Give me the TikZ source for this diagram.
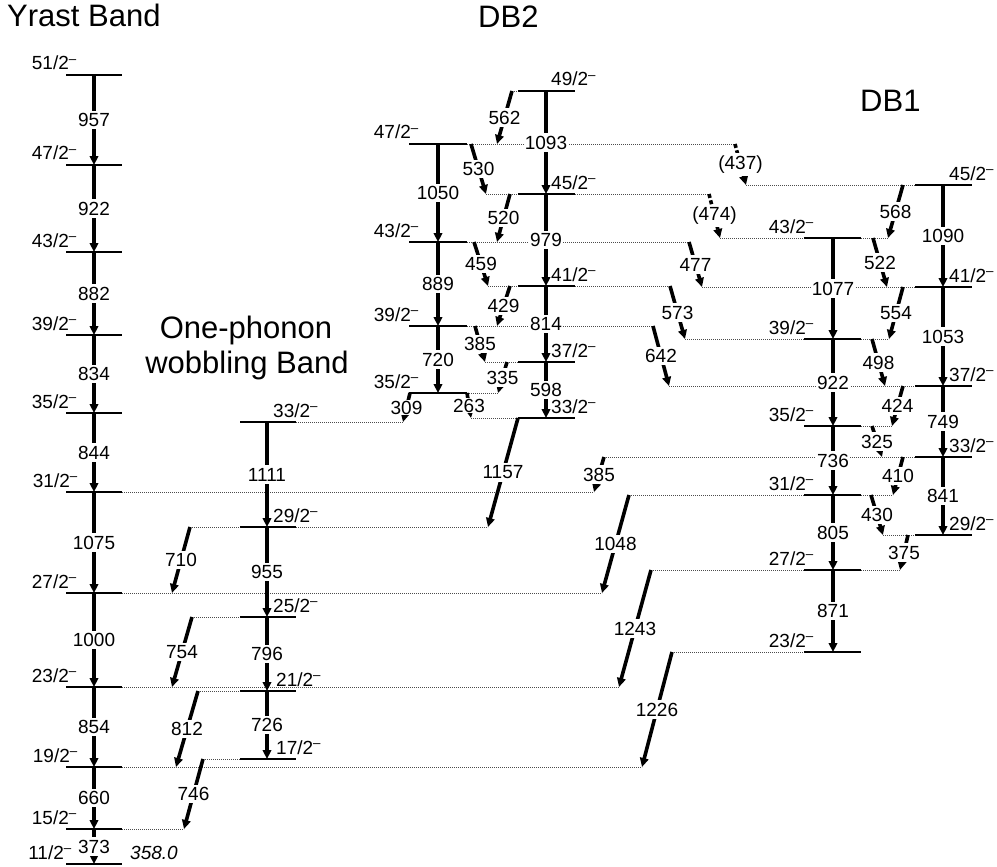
\documentclass[tikz,border=0pt]{standalone}
\usepackage{fontspec}
\setmainfont{Liberation Sans}
\usetikzlibrary{arrows.meta}
\newcommand\fs{\fontsize{19}{21}\selectfont}
\newcommand\jp[1]{#1\textsuperscript{–}}
% level: name, x of transition, x left, x right, y
\newcommand\lvl[5]{\coordinate (#1) at (#2,#5);
  \draw[levline] (#3,#5) coordinate (#1-l) -- (#4,#5) coordinate (#1-r);}
\begin{document}
\begin{tikzpicture}[x=1pt,y=-1pt,
  levline/.style={line width=1.3pt},
  ext/.style={line width=0.8pt, dash pattern=on 0.8pt off 1.2pt, black!70},
  gam/.style={line width=3.6pt, -{Triangle[length=9pt,width=8.5pt]}},
  gamd/.style={gam, dash pattern=on 4pt off 2.5pt},
  en/.style={fill=white, inner xsep=1pt, inner ysep=2.5pt, font=\fs},
  ens/.style={en, inner ysep=0.3pt},
  spL/.style={anchor=base east, inner sep=0pt, font=\fs},
  spR/.style={anchor=base west, inner sep=0pt, font=\fs},
  title/.style={font=\fontsize{31}{35}\selectfont, inner sep=0pt}]
\useasboundingbox (0,0) rectangle (997,867);

% ---------- transition end points ----------
\coordinate (s710) at (190,527); \coordinate (e710) at (172,593);
\coordinate (s754) at (192,617); \coordinate (e754) at (172,687);
\coordinate (s812) at (198,691); \coordinate (e812) at (176,767);
\coordinate (s746) at (203,759); \coordinate (e746) at (184,829);
\coordinate (s562) at (512,91);  \coordinate (e562) at (497,144);
\coordinate (s530) at (471,144); \coordinate (e530) at (486,194);
\coordinate (s520) at (510,194); \coordinate (e520) at (497,242);
\coordinate (s459) at (474,242); \coordinate (e459) at (488,286);
\coordinate (s429) at (510,286); \coordinate (e429) at (497,326);
\coordinate (s385a) at (475,326); \coordinate (e385a) at (485,362);
\coordinate (s335) at (507,362); \coordinate (e335) at (498,393);
\coordinate (s263) at (467,393); \coordinate (e263) at (471,418);
\coordinate (s309) at (410,393); \coordinate (e309) at (403,422);
\coordinate (s1157) at (518,418); \coordinate (e1157) at (488,527);
\coordinate (s437) at (735,144); \coordinate (e437) at (746,185);
\coordinate (s474) at (709,194); \coordinate (e474) at (720,238);
\coordinate (s477) at (689,242); \coordinate (e477) at (702,287);
\coordinate (s573) at (670,286); \coordinate (e573) at (685,339);
\coordinate (s642) at (653,326); \coordinate (e642) at (669,386);
\coordinate (s568) at (903,185); \coordinate (e568) at (888,238);
\coordinate (s522) at (873,238); \coordinate (e522) at (887,287);
\coordinate (s554) at (903,287); \coordinate (e554) at (889,339);
\coordinate (s498) at (872,339); \coordinate (e498) at (885,386);
\coordinate (s424) at (903,386); \coordinate (e424) at (892,426);
\coordinate (s325) at (872,426); \coordinate (e325) at (882,457);
\coordinate (s410) at (903,457); \coordinate (e410) at (893,495);
\coordinate (s430) at (871,495); \coordinate (e430) at (883,535);
\coordinate (s375) at (908,535); \coordinate (e375) at (900,570);
\coordinate (s385b) at (604,457); \coordinate (e385b) at (594,492);
\coordinate (s1048) at (629,495); \coordinate (e1048) at (602,593);
\coordinate (s1243) at (651,570); \coordinate (e1243) at (619,687);
\coordinate (s1226) at (672,652); \coordinate (e1226) at (642,767);

% ---------- levels ----------
% Yrast
\lvl{Y51}{94}{66}{122}{75}  \lvl{Y47}{94}{66}{122}{165}
\lvl{Y43}{94}{66}{122}{252} \lvl{Y39}{94}{66}{122}{335}
\lvl{Y35}{94}{66}{122}{413} \lvl{Y31}{94}{66}{122}{492}
\lvl{Y27}{94}{66}{122}{593} \lvl{Y23}{94}{66}{122}{687}
\lvl{Y19}{94}{66}{122}{767} \lvl{Y15}{94}{66}{122}{829}
\lvl{Y11}{94}{66}{122}{864}
% wobbling
\lvl{W33}{267}{240}{296}{422} \lvl{W29}{267}{240}{296}{527}
\lvl{W25}{267}{240}{296}{617} \lvl{W21}{267}{240}{296}{691}
\lvl{W17}{267}{240}{296}{759}
% DB2
\lvl{A47}{438}{409}{467}{144} \lvl{A43}{438}{409}{467}{242}
\lvl{A39}{438}{409}{467}{326} \lvl{A35}{438}{409}{467}{393}
\lvl{B49}{546}{518}{575}{91}  \lvl{B45}{546}{518}{575}{194}
\lvl{B41}{546}{518}{575}{286} \lvl{B37}{546}{518}{575}{362}
\lvl{B33}{546}{518}{575}{418}
% DB1
\lvl{C43}{833}{804}{861}{238} \lvl{C39}{833}{804}{861}{339}
\lvl{C35}{833}{804}{861}{426} \lvl{C31}{833}{804}{861}{495}
\lvl{C27}{833}{804}{861}{570} \lvl{C23}{833}{804}{861}{652}
\lvl{D45}{943}{915}{972}{185} \lvl{D41}{943}{915}{972}{287}
\lvl{D37}{943}{915}{972}{386} \lvl{D33}{943}{915}{972}{457}
\lvl{D29}{943}{915}{972}{535}

% ---------- dotted level extensions ----------
\draw[ext] (Y31-r) -- (e385b);  \draw[ext] (Y27-r) -- (e1048);
\draw[ext] (Y23-r) -- (e1243);  \draw[ext] (Y19-r) -- (e1226);
\draw[ext] (Y15-r) -- (e746);
\draw[ext] (W33-r) -- (e309);
\draw[ext] (s710) -- (W29-l);   \draw[ext] (W29-r) -- (e1157);
\draw[ext] (s754) -- (W25-l);   \draw[ext] (s812) -- (W21-l);
\draw[ext] (s746) -- (W17-l);
\draw[ext] (A47-r) -- (s437);   \draw[ext] (A43-r) -- (s477);
\draw[ext] (A39-r) -- (s642);   \draw[ext] (A35-r) -- (e335);
\draw[ext] (s562) -- (B49-l);
\draw[ext] (e530) -- (B45-l);   \draw[ext] (B45-r) -- (s474);
\draw[ext] (e459) -- (B41-l);   \draw[ext] (B41-r) -- (s573);
\draw[ext] (e385a) -- (B37-l);  \draw[ext] (e263) -- (B33-l);
\draw[ext] (e474) -- (C43-l);   \draw[ext] (C43-r) -- (e568);
\draw[ext] (e573) -- (C39-l);   \draw[ext] (C39-r) -- (e554);
\draw[ext] (C35-r) -- (e424);
\draw[ext] (s1048) -- (C31-l);  \draw[ext] (C31-r) -- (e410);
\draw[ext] (s1243) -- (C27-l);  \draw[ext] (C27-r) -- (e375);
\draw[ext] (s1226) -- (C23-l);
\draw[ext] (e437) -- (D45-l);   \draw[ext] (e477) -- (D41-l);
\draw[ext] (e642) -- (D37-l);   \draw[ext] (s385b) -- (D33-l);
\draw[ext] (e430) -- (D29-l);

% ---------- transitions ----------
% Yrast
\draw[gam] (Y51) -- (Y47) node[en,midway] {957};
\draw[gam] (Y47) -- (Y43) node[en,midway] {922};
\draw[gam] (Y43) -- (Y39) node[en,midway] {882};
\draw[gam] (Y39) -- (Y35) node[en,midway] {834};
\draw[gam] (Y35) -- (Y31) node[en,midway] {844};
\draw[gam] (Y31) -- (Y27) node[en,midway] {1075};
\draw[gam] (Y27) -- (Y23) node[en,midway] {1000};
\draw[gam] (Y23) -- (Y19) node[en,midway] {854};
\draw[gam] (Y19) -- (Y15) node[en,midway] {660};
\draw[gam] (Y15) -- (Y11) node[en,midway] {373};
% wobbling
\draw[gam] (W33) -- (W29) node[en,midway] {1111};
\draw[gam] (W29) -- (W25) node[en,midway] {955};
\draw[gam] (W25) -- (W21) node[en,midway] {796};
\draw[gam] (W21) -- (W17) node[en,midway] {726};
\draw[gam] (s710) -- (e710) node[en,midway] {710};
\draw[gam] (s754) -- (e754) node[en,midway] {754};
\draw[gam] (s812) -- (e812) node[en,midway] {812};
\draw[gam] (s746) -- (e746) node[en,midway] {746};
% DB2
\draw[gam] (A47) -- (A43) node[en,midway] {1050};
\draw[gam] (A43) -- (A39) node[en,midway] {889};
\draw[gam] (A39) -- (A35) node[en,midway] {720};
\draw[gam] (B49) -- (B45) node[en,midway] {1093};
\draw[gam] (B45) -- (B41) node[en,midway] {979};
\draw[gam] (B41) -- (B37) node[en,midway] {814};
\draw[gam] (B37) -- (B33) node[en,midway] {598};
\draw[gam] (s562) -- (e562) node[en,midway] {562};
\draw[gam] (s530) -- (e530) node[en,midway] {530};
\draw[gam] (s520) -- (e520) node[en,midway] {520};
\draw[gam] (s459) -- (e459) node[en,midway] {459};
\draw[gam] (s429) -- (e429) node[en,midway] {429};
\draw[gam] (s385a) -- (e385a) node[en,midway] {385};
\draw[gam] (s335) -- (e335) node[en,midway] {335};
\draw[gam] (s263) -- (e263) node[ens,midway] {263};
\draw[gam] (s309) -- (e309) node[ens,midway] {309};
\draw[gam] (s1157) -- (e1157) node[en,midway] {1157};
\draw[gamd] (s437) -- (e437) node[en,midway] {(437)};
\draw[gamd] (s474) -- (e474) node[en,midway] {(474)};
\draw[gam] (s477) -- (e477) node[en,midway] {477};
\draw[gam] (s573) -- (e573) node[en,midway] {573};
\draw[gam] (s642) -- (e642) node[en,midway] {642};
% DB1
\draw[gam] (C43) -- (C39) node[en,midway] {1077};
\draw[gam] (C39) -- (C35) node[en,midway] {922};
\draw[gam] (C35) -- (C31) node[en,midway] {736};
\draw[gam] (C31) -- (C27) node[en,midway] {805};
\draw[gam] (C27) -- (C23) node[en,midway] {871};
\draw[gam] (D45) -- (D41) node[en,midway] {1090};
\draw[gam] (D41) -- (D37) node[en,midway] {1053};
\draw[gam] (D37) -- (D33) node[en,midway] {749};
\draw[gam] (D33) -- (D29) node[en,midway] {841};
\draw[gam] (s568) -- (e568) node[en,midway] {568};
\draw[gam] (s522) -- (e522) node[en,midway] {522};
\draw[gam] (s554) -- (e554) node[en,midway] {554};
\draw[gam] (s498) -- (e498) node[en,midway] {498};
\draw[gam] (s424) -- (e424) node[en,midway] {424};
\draw[gam] (s325) -- (e325) node[en,midway] {325};
\draw[gam] (s410) -- (e410) node[en,midway] {410};
\draw[gam] (s430) -- (e430) node[en,midway] {430};
\draw[gam] (s375) -- (e375) node[en,midway] {375};
\draw[gam] (s385b) -- (e385b) node[en,midway] {385};
\draw[gam] (s1048) -- (e1048) node[en,midway] {1048};
\draw[gam] (s1243) -- (e1243) node[en,midway] {1243};
\draw[gam] (s1226) -- (e1226) node[en,midway] {1226};

% ---------- spin labels ----------
\node[spL] (sY51) at (77,70)  {\jp{51/2}};
\node[spL] (sY47) at (77,160) {\jp{47/2}};
\node[spL] (sY43) at (77,247) {\jp{43/2}};
\node[spL] (sY39) at (77,330) {\jp{39/2}};
\node[spL] (sY35) at (77,408) {\jp{35/2}};
\node[spL] (sY31) at (78,487) {\jp{31/2}};
\node[spL] (sY27) at (77,588) {\jp{27/2}};
\node[spL] (sY23) at (77,682) {\jp{23/2}};
\node[spL] (sY19) at (78,762) {\jp{19/2}};
\node[spL] (sY15) at (77,824) {\jp{15/2}};
\node[spL] (sY11) at (72,859) {\jp{11/2}};
\node[spR] (sW33) at (273,417) {\jp{33/2}};
\node[spR] (sW29) at (273,522) {\jp{29/2}};
\node[spR] (sW25) at (273,612) {\jp{25/2}};
\node[spR] (sW21) at (276,686) {\jp{21/2}};
\node[spR] (sW17) at (276,754) {\jp{17/2}};
\node[spL] (sA47) at (419,139) {\jp{47/2}};
\node[spL] (sA43) at (419,237) {\jp{43/2}};
\node[spL] (sA39) at (419,321) {\jp{39/2}};
\node[spL] (sA35) at (419,388) {\jp{35/2}};
\node[spR] (sB49) at (551,86)  {\jp{49/2}};
\node[spR] (sB45) at (551,189) {\jp{45/2}};
\node[spR] (sB41) at (551,281) {\jp{41/2}};
\node[spR] (sB37) at (551,357) {\jp{37/2}};
\node[spR] (sB33) at (551,413) {\jp{33/2}};
\node[spL] (sC43) at (814,233) {\jp{43/2}};
\node[spL] (sC39) at (814,334) {\jp{39/2}};
\node[spL] (sC35) at (814,421) {\jp{35/2}};
\node[spL] (sC31) at (814,490) {\jp{31/2}};
\node[spL] (sC27) at (814,565) {\jp{27/2}};
\node[spL] (sC23) at (814,647) {\jp{23/2}};
\node[spR] (sD45) at (949,180) {\jp{45/2}};
\node[spR] (sD41) at (949,282) {\jp{41/2}};
\node[spR] (sD37) at (949,381) {\jp{37/2}};
\node[spR] (sD33) at (949,452) {\jp{33/2}};
\node[spR] (sD29) at (949,530) {\jp{29/2}};
\node[anchor=base west, inner sep=0pt, font=\fs\itshape] (E0) at (130,859) {358.0};

% ---------- titles ----------
\node[title, anchor=base west] (tY) at (7,27) {Yrast Band};
\node[title, anchor=base west] (tDB2) at (478,28) {DB2};
\node[title, anchor=base west] (tDB1) at (860,112) {DB1};
\node[title, anchor=base] (tW1) at (246,338) {One-phonon};
\node[title, anchor=base] (tW2) at (247,373) {wobbling Band};
\end{tikzpicture}
\end{document}
